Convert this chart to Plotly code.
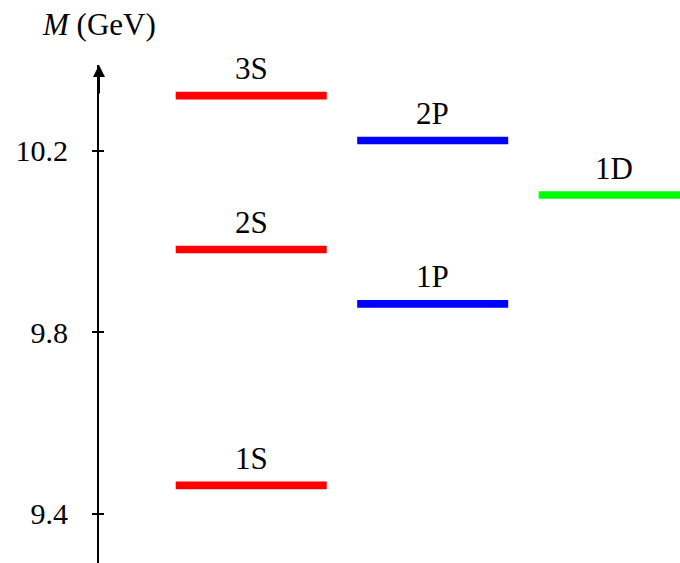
import plotly.graph_objects as go

# Data
states = ["1S", "2S", "3S", "1P", "2P", "1D"]
orbital_L = [0, 0, 0, 1, 1, 2]
masses = [9.463, 9.983, 10.322, 9.863, 10.223, 10.103]
tick_values = [9.4, 9.8, 10.2]
tick_labels = ["9.4", "9.8", "10.2"]
L_colors = {0: "#ff0000", 1: "#0000ff", 2: "#00ff00"}

FONT = "Liberation Serif"
FS = 31
HALF = 0.416

fig = go.Figure()
for name, L, m in zip(states, orbital_L, masses):
    fig.add_trace(go.Scatter(
        x=[L - HALF, L + HALF], y=[m, m], mode="lines",
        line=dict(color=L_colors[L], width=7.6), showlegend=False,
        hoverinfo="skip"))
    fig.add_annotation(x=L, y=m, text=name, showarrow=False,
                       xanchor="center", yanchor="middle", yshift=27,
                       font=dict(family=FONT, size=FS, color="black"))

# axis arrow head
fig.add_annotation(x=0, y=1, xref="paper", yref="paper", ax=0, ay=30,
                   showarrow=True, arrowhead=2, arrowsize=1.2, arrowwidth=2,
                   arrowcolor="black", text="")
fig.add_annotation(x=0, y=1, xref="paper", yref="paper", text="<i>M</i> (GeV)",
                   showarrow=False, xanchor="center", yanchor="middle", yshift=41,
                   font=dict(family=FONT, size=FS, color="black"))

fig.update_layout(
    width=680, height=563,
    margin=dict(l=99, r=0, t=65, b=0, autoexpand=False),
    paper_bgcolor="white", plot_bgcolor="white",
    font=dict(family=FONT, size=FS, color="black"),
    xaxis=dict(visible=False, range=[-0.8386, 2.3625], automargin=False),
    yaxis=dict(range=[9.292, 10.3895], tickvals=tick_values, ticktext=tick_labels,
               tickfont=dict(family=FONT, size=30, color="black"),
               ticks="outside", ticklen=5, tickwidth=1.5, tickcolor="black",
               showline=True, linewidth=2, linecolor="black", automargin=False,
               showgrid=False, zeroline=False, ticklabelstandoff=18),
    yaxis2=dict(overlaying="y", matches="y", side="left", tickvals=tick_values,
                ticks="inside", ticklen=5, tickwidth=1.5, tickcolor="black",
                automargin=False,
                showticklabels=False, showline=False, showgrid=False, zeroline=False),
)
fig.add_trace(go.Scatter(x=[None], y=[None], yaxis="y2", showlegend=False))

fig.write_html("out.html", config={"displayModeBar": False},
               post_script="document.body.style.margin='0';"
                           "document.body.style.overflow='hidden';")
